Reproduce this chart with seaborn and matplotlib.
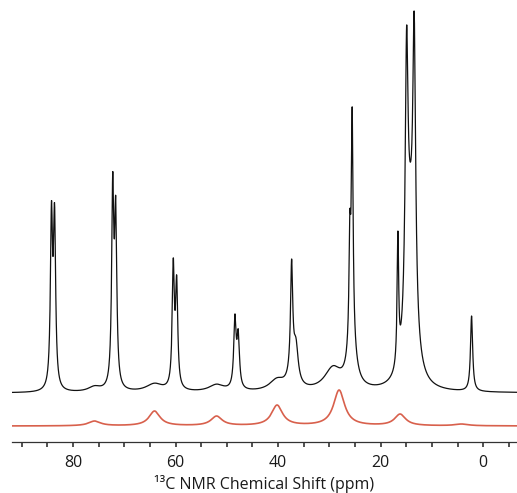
import numpy as np
import pandas as pd
import matplotlib
matplotlib.use("Agg")
import matplotlib.pyplot as plt
from matplotlib.ticker import MultipleLocator
import seaborn as sns

# --- data ---
# sharp black peaks: position (ppm), apparent height above baseline, half-width (ppm)
black_ppm = [84.2, 83.6, 72.25, 71.67, 60.44, 59.78, 48.41, 47.77, 37.36, 36.5,
             26.0, 25.54, 16.63, 14.93, 13.45, 2.26]
black_height = [192, 190, 221, 197, 135, 118, 79, 64, 134, 55,
                182, 286, 162, 367, 381, 77]
black_hwhm = [0.25, 0.25, 0.25, 0.25, 0.25, 0.25, 0.28, 0.28, 0.25, 0.5,
              0.2, 0.2, 0.18, 0.33, 0.33, 0.25]

# broad humps under the black trace: position, height, half-width
hump_ppm = [75.8, 64.1, 52.0, 40.2, 29.3, 25.6, 37.2, 14.2]
hump_height = [5, 8, 7, 11, 22, 45, 15, 140]
hump_hwhm = [1.5, 2.0, 1.8, 1.8, 2.0, 0.9, 0.9, 1.0]

# red trace peaks
red_ppm = [75.8, 64.1, 52.0, 40.2, 28.1, 16.2, 4.2]
red_height = [5, 15, 10, 21, 36, 12, 2]
red_hwhm = [1.4, 1.3, 1.3, 1.3, 1.3, 1.3, 1.6]

black_base = 48.7
red_base = 15.7

tick_labels = ["80", "60", "40", "20", "0"]


def lor(x, c, w):
    return (w ** 2) / ((x[:, None] - c[None, :]) ** 2 + w ** 2)


def spectrum(x, centers, heights, widths, extra=None):
    c = np.asarray(centers, float)
    h = np.asarray(heights, float)
    w = np.asarray(widths, float)
    add_at_c = np.zeros(len(c))
    add_x = np.zeros(len(x))
    if extra is not None:
        ec, eh, ew = (np.asarray(v, float) for v in extra)
        add_at_c = lor(c, ec, ew) @ eh
        add_x = lor(x, ec, ew) @ eh
    M = lor(c, c, w)
    amp = np.linalg.solve(M, h - add_at_c)
    return lor(x, c, w) @ amp + add_x


x = np.arange(-6.7, 92.0, 0.01)
yb = black_base + spectrum(x, black_ppm, black_height, black_hwhm,
                           extra=(hump_ppm, hump_height, hump_hwhm))
yr = red_base + spectrum(x, red_ppm, red_height, red_hwhm)

df = pd.DataFrame({
    "ppm": np.concatenate([x, x]),
    "intensity": np.concatenate([yb, yr]),
    "series": ["exp"] * len(x) + ["sim"] * len(x),
})

sns.set_theme(style="white")
plt.rcParams["font.family"] = ["Open Sans", "DejaVu Sans"]

fig = plt.figure(figsize=(5.17, 4.93), dpi=100)
ax = fig.add_axes([12 / 517, 51.3 / 493, 505 / 517, 441.7 / 493])

sns.lineplot(data=df[df.series == "exp"], x="ppm", y="intensity", color="#111111",
             linewidth=0.9, estimator=None, ax=ax)
sns.lineplot(data=df[df.series == "sim"], x="ppm", y="intensity", color="#d8604c",
             linewidth=1.2, estimator=None, ax=ax)

ax.set_xlim(91.9, -6.6)
ax.set_ylim(0, 441.7)
for s in ["left", "right", "top"]:
    ax.spines[s].set_visible(False)
ax.spines["bottom"].set_color("#333333")
ax.spines["bottom"].set_linewidth(0.9)
ax.set_yticks([])
ax.set_ylabel("")
ax.set_xticks([80, 60, 40, 20, 0])
ax.set_xticklabels(tick_labels)
ax.xaxis.set_minor_locator(MultipleLocator(5))
ax.tick_params(axis="x", which="both", direction="out", length=3.5, width=1.2,
               color="#333333", bottom=True)
ax.tick_params(axis="x", which="major", labelsize=11.5, pad=6, labelcolor="#1a1a1a")
ax.set_xlabel("¹³C NMR Chemical Shift (ppm)", fontsize=11.5, color="#1a1a1a", labelpad=3)

fig.savefig("out.png", dpi=100)
